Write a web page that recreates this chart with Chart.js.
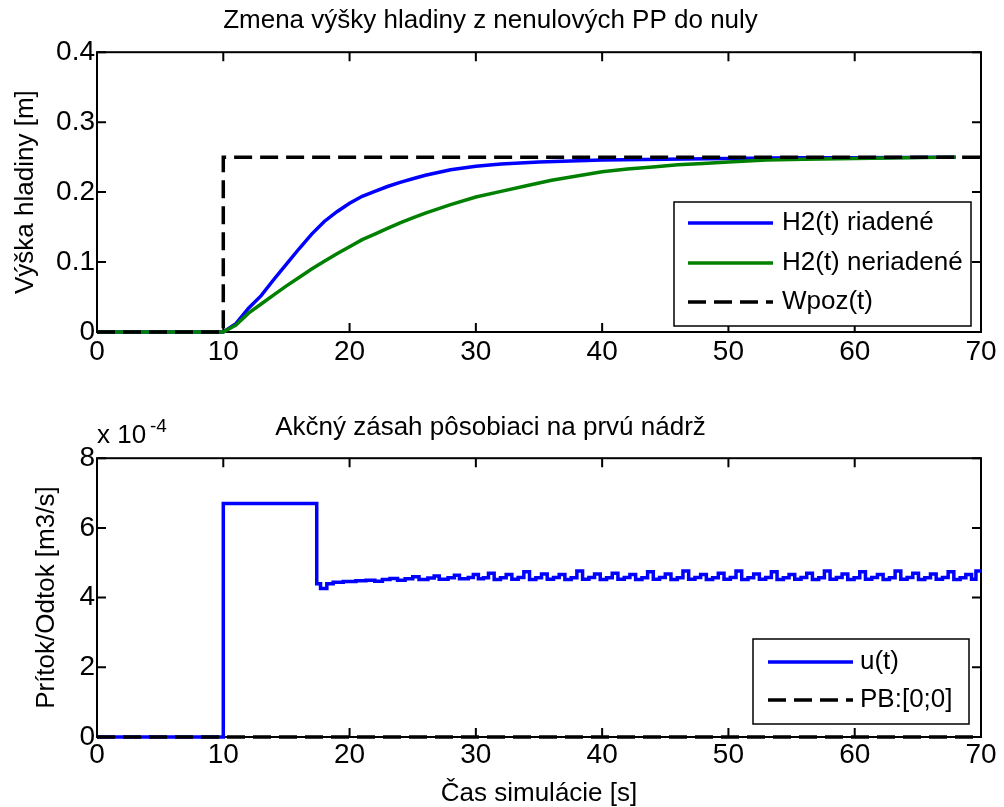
<!doctype html>
<html>
<head>
<meta charset="utf-8">
<title>Zmena výšky hladiny</title>
<script src="https://cdn.jsdelivr.net/npm/chart.js@4.4.1/dist/chart.umd.min.js"></script>
<style>
    body { margin: 0; background: #fff; }
    canvas { position: absolute; left: 0; }
    #topChart { top: 0; }
    #bottomChart { top: 400px; }
</style>
</head>
<body>
<canvas id="topChart" width="1004" height="400"></canvas>
<canvas id="bottomChart" width="1004" height="407"></canvas>
<script>
    // ---- data ----
    var xTicks = [0, 10, 20, 30, 40, 50, 60, 70];
    var hTicks = [0, 0.1, 0.2, 0.3, 0.4];
    var uTicks = [0, 2, 4, 6, 8];

    // H2(t) riadene
    var tRiadene = [0, 10, 11, 12, 13, 14, 15, 16, 17, 18, 19, 20, 21, 22, 23, 24, 25, 26, 27, 28, 30, 32, 35, 40, 45, 50, 55, 60, 68];
    var hRiadene = [0, 0, 0.012, 0.034, 0.052, 0.075, 0.097, 0.119, 0.14, 0.158, 0.172, 0.184, 0.194, 0.201, 0.208, 0.214, 0.219, 0.224, 0.228, 0.232, 0.237, 0.240, 0.243, 0.246, 0.247, 0.248, 0.249, 0.249, 0.25];

    // H2(t) neriadene
    var tNeriadene = [0, 10, 11, 12, 13, 14, 15, 16, 17, 18, 19, 20, 21, 22, 23, 24, 25, 26, 27, 28, 30, 32, 34, 36, 38, 40, 42, 44, 46, 48, 50, 53, 56, 60, 64, 68];
    var hNeriadene = [0, 0, 0.01, 0.027, 0.04, 0.053, 0.066, 0.078, 0.09, 0.101, 0.112, 0.122, 0.132, 0.14, 0.148, 0.156, 0.163, 0.17, 0.176, 0.182, 0.193, 0.201, 0.209, 0.217, 0.223, 0.229, 0.233, 0.236, 0.239, 0.241, 0.243, 0.246, 0.247, 0.248, 0.249, 0.25];

    // Wpoz(t)
    var tWpoz = [0, 10, 10, 70];
    var hWpoz = [0, 0, 0.25, 0.25];

    // u(t) in units of 1e-4 m3/s, zero-order hold
    var uTime = [0, 10, 17.4, 17.7, 18.2, 18.7, 19.5, 20.5, 21.3, 22.0, 22.6, 23.2, 23.8, 24.4, 25.0, 25.5, 26.2, 26.7, 27.1, 27.8, 28.3, 28.7, 29.4, 29.8, 30.2, 30.6,
        31.0, 31.45, 31.95, 32.4, 32.85, 33.35, 33.8, 34.25, 34.75, 35.2, 35.65, 36.15, 36.6, 37.05, 37.55,
        38.0, 38.45, 38.95, 39.4, 39.85, 40.35, 40.8, 41.25, 41.75, 42.2, 42.65, 43.15, 43.6, 44.05, 44.55,
        45.0, 45.45, 45.95, 46.4, 46.85, 47.35, 47.8, 48.25, 48.75, 49.2, 49.65, 50.15, 50.6, 51.05, 51.55,
        52.0, 52.45, 52.95, 53.4, 53.85, 54.35, 54.8, 55.25, 55.75, 56.2, 56.65, 57.15, 57.6, 58.05, 58.55,
        59.0, 59.45, 59.95, 60.4, 60.85, 61.35, 61.8, 62.25, 62.75, 63.2, 63.65, 64.15, 64.6, 65.05, 65.55,
        66.0, 66.45, 66.95, 67.4, 67.85, 68.35, 68.8, 69.25, 69.6, 70];
    var uValue = [0, 6.7, 4.4, 4.26, 4.4, 4.44, 4.46, 4.48, 4.5, 4.47, 4.52, 4.55, 4.5, 4.54, 4.6, 4.52, 4.56, 4.62, 4.53, 4.57, 4.64, 4.54, 4.58, 4.66, 4.54, 4.57,
        4.70, 4.52, 4.57, 4.66, 4.53, 4.58, 4.74, 4.52, 4.57, 4.68, 4.53, 4.58, 4.66, 4.52, 4.57,
        4.76, 4.53, 4.58, 4.68, 4.52, 4.57, 4.70, 4.53, 4.58, 4.66, 4.52, 4.57, 4.74, 4.53, 4.58,
        4.68, 4.52, 4.57, 4.76, 4.53, 4.58, 4.66, 4.52, 4.57, 4.70, 4.53, 4.58, 4.76, 4.52, 4.57,
        4.68, 4.53, 4.58, 4.74, 4.52, 4.57, 4.66, 4.53, 4.58, 4.70, 4.52, 4.57, 4.76, 4.53, 4.58,
        4.68, 4.52, 4.57, 4.74, 4.53, 4.58, 4.66, 4.52, 4.57, 4.76, 4.53, 4.58, 4.70, 4.52, 4.57,
        4.68, 4.53, 4.58, 4.74, 4.52, 4.57, 4.66, 4.53, 4.76, 4.76];

    // PB:[0;0]
    var tPB = [0, 70];
    var uPB = [0, 0];

    var FONT = '"Liberation Sans", Arial, sans-serif';
    var BLUE = '#0000ff', GREEN = '#008000', BLACK = '#000000';
    var DASH = [18, 8];
    var LW = 3.5;

    Chart.defaults.color = '#000';
    Chart.defaults.font.family = FONT;

    function pairs(t, v) {
        var out = [];
        for (var i = 0; i < t.length; i++) out.push({ x: t[i], y: v[i] });
        return out;
    }

    function fixedTicks(list) {
        return function (scale) {
            scale.ticks = list.map(function (v) { return { value: v }; });
        };
    }

    // box, inward ticks, legend and exponent label like the matlab figure
    var matlabAxes = {
        id: 'matlabAxes',
        beforeDatasetsDraw: function (chart) {
            var a = chart.chartArea, ctx = chart.ctx;
            var xs = chart.scales.x, ys = chart.scales.y;
            ctx.save();
            ctx.strokeStyle = BLACK;
            ctx.lineWidth = 2;
            ctx.strokeRect(a.left, a.top, a.right - a.left, a.bottom - a.top);
            ctx.beginPath();
            xs.ticks.forEach(function (t) {
                var px = xs.getPixelForValue(t.value);
                ctx.moveTo(px, a.bottom); ctx.lineTo(px, a.bottom - 9);
                ctx.moveTo(px, a.top); ctx.lineTo(px, a.top + 9);
            });
            ys.ticks.forEach(function (t) {
                var py = ys.getPixelForValue(t.value);
                ctx.moveTo(a.left, py); ctx.lineTo(a.left + 9, py);
                ctx.moveTo(a.right, py); ctx.lineTo(a.right - 9, py);
            });
            ctx.stroke();
            ctx.restore();
        },
        afterDatasetsDraw: function (chart, args, opts) {
            var ctx = chart.ctx;
            ctx.save();
            if (opts.box) {
                var b = opts.box;
                ctx.fillStyle = '#fff';
                ctx.fillRect(b[0], b[1], b[2], b[3]);
                ctx.strokeStyle = BLACK;
                ctx.lineWidth = 1.5;
                ctx.strokeRect(b[0], b[1], b[2], b[3]);
                ctx.font = '26px ' + FONT;
                ctx.textBaseline = 'middle';
                ctx.textAlign = 'left';
                chart.data.datasets.forEach(function (ds, i) {
                    var y = opts.rows[i];
                    ctx.beginPath();
                    ctx.strokeStyle = ds.borderColor;
                    ctx.lineWidth = LW;
                    ctx.setLineDash(ds.borderDash || []);
                    ctx.moveTo(opts.lineX[0], y);
                    ctx.lineTo(opts.lineX[1], y);
                    ctx.stroke();
                    ctx.setLineDash([]);
                    ctx.fillStyle = BLACK;
                    ctx.fillText(ds.label, opts.textX, y);
                });
            }
            if (opts.exponent) {
                var e = opts.exponent;
                ctx.fillStyle = BLACK;
                ctx.textAlign = 'left';
                ctx.textBaseline = 'alphabetic';
                ctx.font = '26px ' + FONT;
                ctx.fillText('x 10', e.x, e.y);
                ctx.font = '19px ' + FONT;
                ctx.fillText('-4', e.supX, e.supY);
            }
            ctx.restore();
        }
    };

    function lineSet(label, data, color, dash, order, stepped) {
        return {
            label: label,
            data: data,
            borderColor: color,
            backgroundColor: color,
            borderWidth: LW,
            borderDash: dash || [],
            pointRadius: 0,
            fill: false,
            tension: 0,
            stepped: stepped || false,
            clip: false,
            order: order
        };
    }

    function makeOptions(cfg) {
        return {
            responsive: false,
            animation: false,
            devicePixelRatio: 1,
            events: [],
            layout: { padding: { left: 0, right: 23, top: 0, bottom: 0 } },
            plugins: {
                legend: { display: false },
                tooltip: { enabled: false },
                title: {
                    display: true,
                    text: cfg.title,
                    color: '#000',
                    font: { size: 26, weight: 'normal', lineHeight: 1.2 },
                    padding: cfg.titlePad
                },
                matlabAxes: cfg.legend
            },
            scales: {
                x: {
                    type: 'linear',
                    min: 0,
                    max: 70,
                    afterBuildTicks: fixedTicks(xTicks),
                    afterFit: function (s) { s.height = cfg.xHeight; },
                    grid: { display: false, drawTicks: false },
                    border: { display: false },
                    ticks: { font: { size: 28, lineHeight: 1 }, padding: cfg.xTickPad, maxRotation: 0, autoSkip: false },
                    title: cfg.xTitle ? {
                        display: true,
                        text: cfg.xTitle,
                        font: { size: 26, lineHeight: 1 },
                        padding: { top: 0, bottom: 0 }
                    } : { display: false }
                },
                y: {
                    type: 'linear',
                    min: cfg.yTicks[0],
                    max: cfg.yTicks[cfg.yTicks.length - 1],
                    afterBuildTicks: fixedTicks(cfg.yTicks),
                    afterFit: function (s) { s.width = 97; },
                    grid: { display: false, drawTicks: false },
                    border: { display: false },
                    ticks: { font: { size: 28, lineHeight: 1 }, padding: 2 },
                    title: {
                        display: true,
                        text: cfg.yTitle,
                        font: { size: 26, lineHeight: 1.2 },
                        padding: { top: cfg.yTitlePad, bottom: 0 }
                    }
                }
            }
        };
    }

    var topChart = new Chart(document.getElementById('topChart'), {
        type: 'line',
        data: {
            datasets: [
                lineSet('H2(t) riadené', pairs(tRiadene, hRiadene), BLUE, null, 3),
                lineSet('H2(t) neriadené', pairs(tNeriadene, hNeriadene), GREEN, null, 2),
                lineSet('Wpoz(t)', pairs(tWpoz, hWpoz), BLACK, DASH, 1)
            ]
        },
        options: makeOptions({
            title: 'Zmena výšky hladiny z nenulových PP do nuly',
            titlePad: { top: 5, bottom: 16 },
            xHeight: 68,
            xTickPad: 6,
            yTicks: hTicks,
            yTitle: 'Výška hladiny [m]',
            yTitlePad: 10,
            legend: { box: [674, 202, 297, 124], rows: [223, 263, 302], lineX: [688, 773], textX: 782 }
        }),
        plugins: [matlabAxes]
    });

    var bottomChart = new Chart(document.getElementById('bottomChart'), {
        type: 'line',
        data: {
            datasets: [
                lineSet('u(t)', pairs(uTime, uValue), BLUE, null, 2, 'before'),
                lineSet('PB:[0;0]', pairs(tPB, uPB), BLACK, DASH, 1)
            ]
        },
        options: makeOptions({
            title: 'Akčný zásah pôsobiaci na prvú nádrž',
            titlePad: { top: 12, bottom: 15 },
            xHeight: 70,
            xTickPad: 4,
            xTitle: 'Čas simulácie [s]',
            yTicks: uTicks,
            yTitle: 'Prítok/Odtok [m3/s]',
            yTitlePad: 31,
            legend: {
                box: [753, 239, 216, 85], rows: [262, 300], lineX: [768, 853], textX: 860,
                exponent: { x: 97, y: 43, supX: 150, supY: 32 }
            }
        }),
        plugins: [matlabAxes]
    });
</script>
</body>
</html>
